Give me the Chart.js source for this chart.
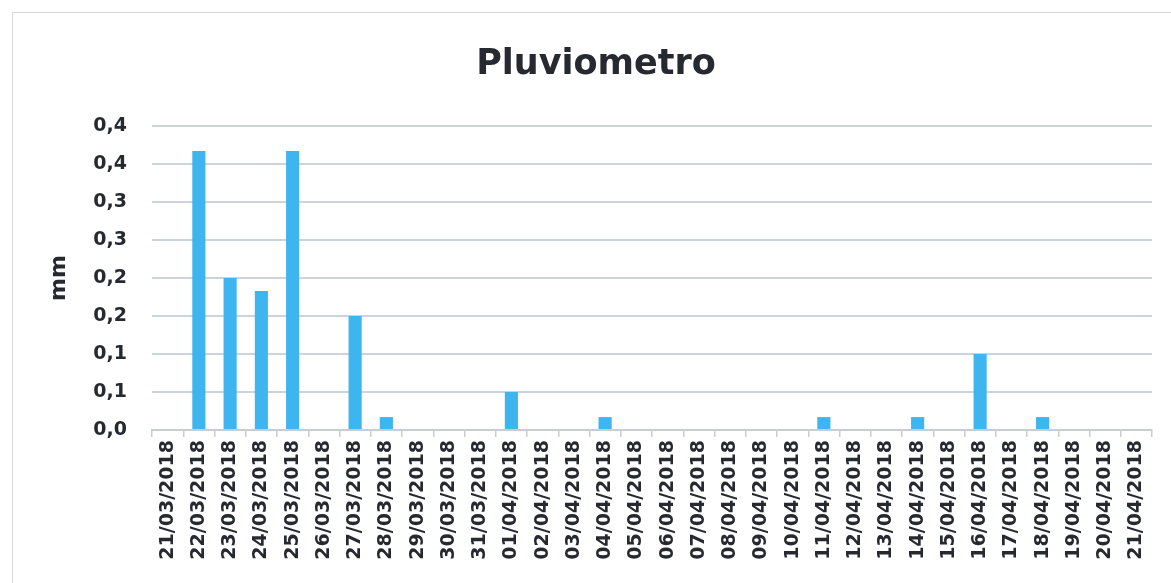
<!DOCTYPE html>
<html>
<head>
<meta charset="utf-8">
<script src="https://cdn.jsdelivr.net/npm/chart.js@4/dist/chart.umd.min.js"></script>
<style>
html,body{margin:0;padding:0;background:#fff;}
#wrap{position:relative;width:1171px;height:583px;}
#frame{position:absolute;left:12px;top:12px;width:1200px;height:600px;border-left:1px solid #d8d8d8;border-top:1px solid #d8d8d8;}
canvas{position:absolute;left:0;top:0;}
</style>
</head>
<body>
<div id="wrap"><div id="frame"></div><canvas id="c" width="1171" height="583"></canvas></div>
<script>
const categories = ["21/03/2018","22/03/2018","23/03/2018","24/03/2018","25/03/2018","26/03/2018","27/03/2018","28/03/2018","29/03/2018","30/03/2018","31/03/2018","01/04/2018","02/04/2018","03/04/2018","04/04/2018","05/04/2018","06/04/2018","07/04/2018","08/04/2018","09/04/2018","10/04/2018","11/04/2018","12/04/2018","13/04/2018","14/04/2018","15/04/2018","16/04/2018","17/04/2018","18/04/2018","19/04/2018","20/04/2018","21/04/2018"];
const rainfall = [0,0.367,0.2,0.183,0.367,0,0.15,0.017,0,0,0,0.05,0,0,0.017,0,0,0,0,0,0,0.017,0,0,0.017,0,0.1,0,0.017,0,0,0];
const yTickValues = [0,0.05,0.1,0.15,0.2,0.25,0.3,0.35,0.4];
const yTickLabels = ["0,0","0,1","0,1","0,2","0,2","0,3","0,3","0,4","0,4"];

const FONT = "'DejaVu Sans', sans-serif";
new Chart(document.getElementById('c'), {
  type: 'bar',
  data: {
    labels: categories,
    datasets: [{
      label: 'mm',
      data: rainfall,
      backgroundColor: '#3fb5f0',
      borderWidth: 0,
      barPercentage: 0.42,
      categoryPercentage: 1.0
    }]
  },
  options: {
    responsive: false,
    animation: false,
    layout: { padding: { left: 40, right: 19, top: 0, bottom: 0 } },
    plugins: {
      legend: { display: false },
      tooltip: { enabled: false },
      title: {
        display: true,
        text: 'Pluviometro',
        color: '#262a30',
        font: { family: FONT, size: 35, weight: 'bold' },
        padding: { top: 44, bottom: 40 }
      }
    },
    scales: {
      x: {
        offset: true,
        grid: { display: true, drawOnChartArea: false, offset: true, tickLength: 7, color: '#c8cdd3', lineWidth: 1.5 },
        border: { display: true, color: '#c8cdd3', width: 2 },
        ticks: {
          color: '#262a30',
          font: { family: FONT, size: 19, weight: 'bold' },
          maxRotation: 90, minRotation: 90, autoSkip: false, padding: 3
        },
        afterFit(scale) { scale.height = 583 - 430; }
      },
      y: {
        min: 0, max: 0.4,
        afterBuildTicks(scale) { scale.ticks = yTickValues.map(v => ({ value: v })); },
        ticks: {
          color: '#262a30',
          font: { family: FONT, size: 19, weight: 'bold' },
          padding: 25,
          callback(value, index) { return yTickLabels[index]; }
        },
        grid: { color: '#cdd3da', lineWidth: 2, drawTicks: false },
        border: { display: false },
        title: {
          display: true,
          text: 'mm',
          color: '#262a30',
          font: { family: FONT, size: 22, weight: 'bold' },
          padding: { top: 6, bottom: 0 }
        },
        afterFit(scale) { scale.width = 112; }
      }
    }
  }
});
</script>
</body>
</html>
